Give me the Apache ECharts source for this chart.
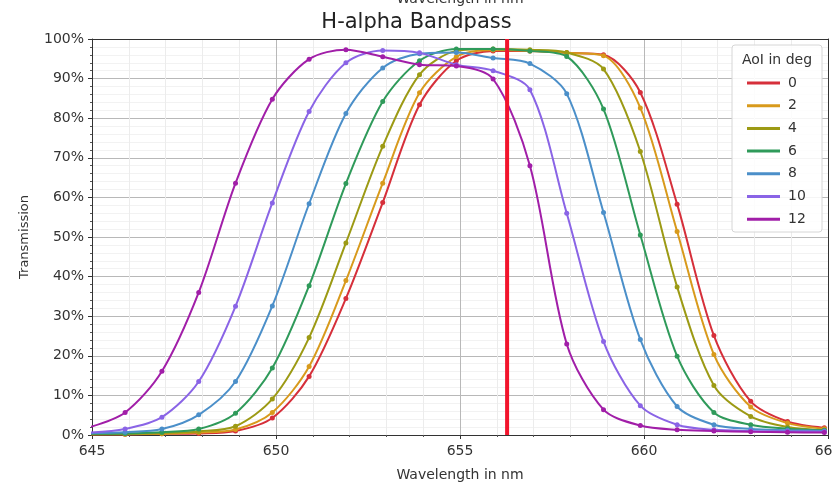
<!DOCTYPE html>
<html>
<head>
<meta charset="utf-8">
<script src="https://cdn.jsdelivr.net/npm/echarts@6/dist/echarts.min.js"></script>
<style>
html,body{margin:0;padding:0;background:#fff;}
#chart{width:833px;height:483px;}
</style>
</head>
<body>
<div id="chart"></div>
<script>
// ---- data ----
const wavelengths = [644.9, 645.9, 646.9, 647.9, 648.9, 649.9, 650.9, 651.9, 652.9, 653.9, 654.9,
                     655.9, 656.9, 657.9, 658.9, 659.9, 660.9, 661.9, 662.9, 663.9, 664.9];
const aoiNames = ['0', '2', '4', '6', '8', '10', '12'];
const t0  = [0.2, 0.2, 0.3, 0.4, 1.0, 4.3, 14.8, 34.5, 58.7, 83.4, 94.5, 97.0, 97.0, 96.5, 96.0, 86.5, 58.3, 25.1, 8.5, 3.4, 1.8];
const t2  = [0.2, 0.2, 0.3, 0.6, 1.4, 5.7, 17.3, 39.0, 63.6, 86.4, 95.5, 97.2, 97.0, 96.5, 95.8, 82.6, 51.4, 20.3, 7.1, 3.0, 1.6];
const t4  = [0.2, 0.3, 0.5, 0.9, 2.2, 9.1, 24.6, 48.5, 72.9, 91.0, 97.0, 97.5, 97.3, 96.6, 92.4, 71.6, 37.4, 12.5, 4.7, 2.0, 1.2];
const t6  = [0.3, 0.4, 0.7, 1.5, 5.5, 16.9, 37.7, 63.5, 84.2, 94.5, 97.5, 97.5, 97.0, 95.6, 82.3, 50.5, 19.9, 5.7, 2.6, 1.6, 1.2];
const t8  = [0.4, 0.7, 1.5, 5.1, 13.5, 32.6, 58.4, 81.2, 92.7, 96.3, 96.6, 95.2, 93.8, 86.2, 56.2, 24.1, 7.2, 2.6, 1.5, 1.2, 1.0];
const t10 = [0.6, 1.5, 4.5, 13.5, 32.5, 58.6, 81.7, 94.0, 97.1, 96.5, 93.5, 92.0, 87.2, 56.0, 23.6, 7.4, 2.6, 1.3, 1.0, 0.9, 0.8];
const t12 = [1.9, 5.7, 16.1, 36.0, 63.6, 84.8, 94.9, 97.3, 95.5, 93.5, 93.2, 89.9, 68.0, 23.0, 6.4, 2.4, 1.3, 1.0, 0.8, 0.7, 0.6];
const hAlpha = 656.28;
const xTicks = [645, 650, 655, 660, 665];
const yTicks = [0, 10, 20, 30, 40, 50, 60, 70, 80, 90, 100];

const curves = [t0, t2, t4, t6, t8, t10, t12];
const colors = ['#d62f3a', '#d89a1c', '#9c9a14', '#2f9a5a', '#4b8fc9', '#8a64e6', '#a11ea8'];
const FONT = 'DejaVu Sans';

const chart = echarts.init(document.getElementById('chart'));

const series = curves.map((vals, k) => ({
  name: aoiNames[k],
  type: 'line',
  data: wavelengths.map((w, i) => [w, vals[i]]),
  smooth: 0.3,
  symbol: 'circle',
  symbolSize: 5,
  showSymbol: true,
  clip: true,
  lineStyle: { width: 2, color: colors[k] },
  itemStyle: { color: colors[k] },
  emphasis: { disabled: true },
  z: 2 + k * 0.01
}));

series.push({
  name: 'H-alpha',
  type: 'line',
  data: [[hAlpha, yTicks[0]], [hAlpha, yTicks[yTicks.length - 1]]],
  symbol: 'none',
  lineStyle: { width: 4, color: '#f2142c' },
  z: 5,
  emphasis: { disabled: true }
});

const axisText = { color: '#333', fontSize: 14, fontFamily: FONT };

chart.setOption({
  animation: false,
  backgroundColor: '#fff',
  title: {
    text: 'H-alpha Bandpass',
    left: 'center',
    top: 7,
    textStyle: { fontSize: 21, fontWeight: 'normal', color: '#222', fontFamily: FONT }
  },
  grid: { left: 92, right: 5, top: 39, bottom: 48, containLabel: false, outerBoundsMode: 'none' },
  legend: {
    data: aoiNames,
    orient: 'vertical',
    left: 742,
    top: 70,
    icon: 'rect',
    itemWidth: 33,
    itemHeight: 3,
    itemGap: 6.7,
    textStyle: { fontSize: 14, color: '#333', fontFamily: FONT, lineHeight: 16, padding: [0, 0, 0, 3] }
  },
  graphic: [
    {
      type: 'rect',
      shape: { x: 732, y: 45, width: 90, height: 187, r: 3 },
      style: { fill: 'rgba(255,255,255,0.85)', stroke: '#d6d6d6', lineWidth: 1 },
      z: 3
    },
    {
      type: 'text',
      x: 777, y: 60,
      style: { text: 'AoI in deg', fontSize: 14, fill: '#333', fontFamily: FONT, textAlign: 'center', textVerticalAlign: 'middle' },
      z: 4
    },
    {
      type: 'text',
      x: 460, y: 6,
      style: { text: 'Wavelength in nm', fontSize: 14, fill: '#333', fontFamily: FONT, textAlign: 'center', textVerticalAlign: 'bottom' },
      z: 4
    }
  ],
  xAxis: [
    {
      type: 'value',
      min: xTicks[0],
      max: xTicks[xTicks.length - 1],
      interval: 5,
      name: 'Wavelength in nm',
      nameLocation: 'middle',
      nameGap: 33,
      nameTextStyle: axisText,
      axisLine: { show: true, onZero: false, lineStyle: { color: '#333', width: 1 } },
      axisTick: { show: true, length: 4, lineStyle: { color: '#333' } },
      minorTick: { show: true, splitNumber: 5, length: 2, lineStyle: { color: '#555' } },
      axisLabel: Object.assign({ margin: 9 }, axisText),
      splitLine: { show: true, lineStyle: { color: '#b8b8b8', width: 1 } },
      minorSplitLine: { show: true, lineStyle: { color: '#ececec', width: 1 } }
    },
    {
      type: 'value',
      position: 'top',
      min: xTicks[0],
      max: xTicks[xTicks.length - 1],
      interval: 5,
      axisLine: { show: true, onZero: false, lineStyle: { color: '#333', width: 1 } },
      axisTick: { show: false },
      axisLabel: { show: false },
      splitLine: { show: false }
    }
  ],
  yAxis: [
    {
      type: 'value',
      min: yTicks[0],
      max: yTicks[yTicks.length - 1],
      interval: 10,
      name: 'Transmission',
      nameLocation: 'middle',
      nameGap: 61,
      nameTextStyle: Object.assign({}, axisText, { fontSize: 13 }),
      axisLine: { show: true, onZero: false, lineStyle: { color: '#333', width: 1 } },
      axisTick: { show: true, length: 4, lineStyle: { color: '#333' } },
      minorTick: { show: true, splitNumber: 5, length: 2, lineStyle: { color: '#555' } },
      axisLabel: Object.assign({ margin: 8, formatter: '{value}%' }, axisText),
      splitLine: { show: true, lineStyle: { color: '#b8b8b8', width: 1 } },
      minorSplitLine: { show: true, lineStyle: { color: '#f2f2f2', width: 1 } }
    },
    {
      type: 'value',
      position: 'right',
      min: yTicks[0],
      max: yTicks[yTicks.length - 1],
      interval: 10,
      axisLine: { show: true, onZero: false, lineStyle: { color: '#333', width: 1 } },
      axisTick: { show: false },
      axisLabel: { show: false },
      splitLine: { show: false }
    }
  ],
  series: series
});
</script>
</body>
</html>
